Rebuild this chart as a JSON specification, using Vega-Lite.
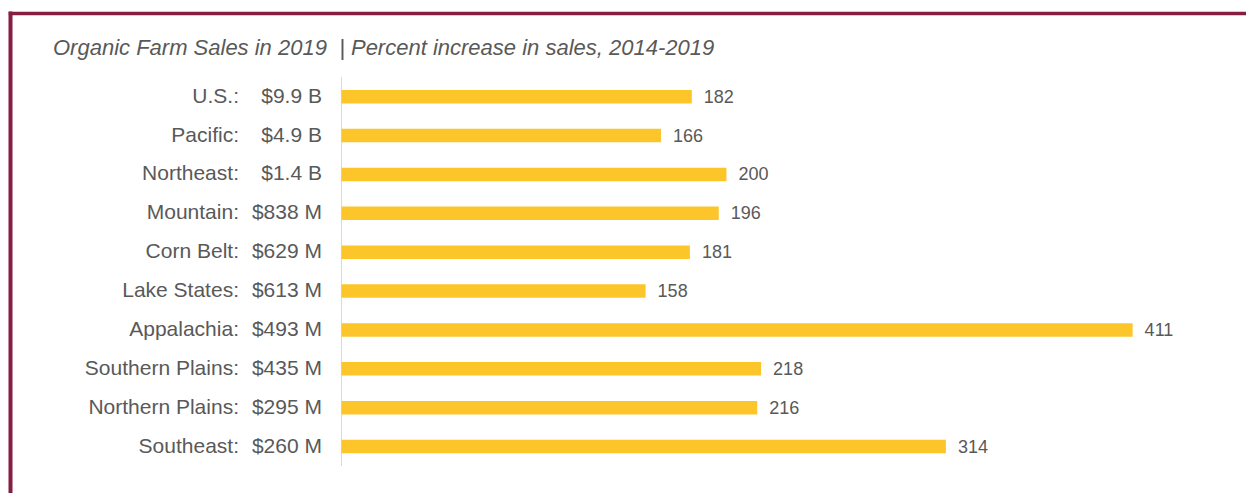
{
  "$schema": "https://vega.github.io/schema/vega-lite/v6.json",
  "description": "Organic farm sales in 2019 by region, with percent increase in sales 2014-2019.",
  "autosize": {"type": "none"},
  "width": 1236,
  "height": 480,
  "padding": {"left": 10, "top": 13, "right": 0, "bottom": 0},
  "background": "white",
  "config": {
    "font": "Liberation Sans",
    "view": {"stroke": null},
    "axisX": {
      "title": null,
      "labels": false,
      "ticks": false,
      "grid": false,
      "domainColor": "#861d42",
      "domainWidth": 3.5,
      "domainCap": "square"
    }
  },
  "title": {
    "text": "Organic Farm Sales in 2019\u00a0\u00a0| Percent increase in sales, 2014-2019",
    "anchor": "start",
    "frame": "group",
    "fontStyle": "italic",
    "fontWeight": "normal",
    "fontSize": 22,
    "color": "#595959",
    "baseline": "alphabetic",
    "dx": 43,
    "offset": -64
  },
  "data": {
    "values": [
      {"region": "U.S.:", "sales": "$9.9 B", "pct": 182},
      {"region": "Pacific:", "sales": "$4.9 B", "pct": 166},
      {"region": "Northeast:", "sales": "$1.4 B", "pct": 200},
      {"region": "Mountain:", "sales": "$838 M", "pct": 196},
      {"region": "Corn Belt:", "sales": "$629 M", "pct": 181},
      {"region": "Lake States:", "sales": "$613 M", "pct": 158},
      {"region": "Appalachia:", "sales": "$493 M", "pct": 411},
      {"region": "Southern Plains:", "sales": "$435 M", "pct": 218},
      {"region": "Northern Plains:", "sales": "$295 M", "pct": 216},
      {"region": "Southeast:", "sales": "$260 M", "pct": 314}
    ]
  },
  "encoding": {
    "y": {
      "field": "region",
      "type": "nominal",
      "sort": null,
      "scale": {
        "domain": ["U.S.:", "Pacific:", "Northeast:", "Mountain:", "Corn Belt:", "Lake States:", "Appalachia:", "Southern Plains:", "Northern Plains:", "Southeast:", ""],
        "paddingInner": 0.652,
        "paddingOuter": 1,
        "align": 0.99
      },
      "axis": {
        "orient": "left",
        "title": null,
        "labels": false,
        "ticks": false,
        "grid": false,
        "domainColor": "#861d42",
        "domainWidth": 4,
        "domainCap": "square"
      }
    }
  },
  "layer": [
    {
      "mark": {"type": "rule", "color": "#d9d9d9", "strokeWidth": 1},
      "encoding": {
        "x": {"datum": 0, "type": "quantitative", "axis": {"orient": "top", "title": null}},
        "y": {"field": "region", "type": "nominal", "sort": null, "bandPosition": -0.937},
        "y2": {"field": "region", "bandPosition": 1.937}
      }
    },
    {
      "mark": {"type": "bar", "color": "#fcc62b"},
      "encoding": {
        "x": {
          "field": "pct",
          "type": "quantitative",
          "scale": {"domain": [-172.2, 469.9], "nice": false, "zero": false},
          "axis": {"orient": "top", "title": null}
        },
        "x2": {"datum": 0}
      }
    },
    {
      "mark": {"type": "text", "align": "left", "baseline": "middle", "dx": 12, "dy": 1, "fontSize": 18, "color": "#595959"},
      "encoding": {
        "x": {"field": "pct", "type": "quantitative", "axis": {"orient": "top", "title": null}},
        "text": {"field": "pct", "type": "quantitative"}
      }
    },
    {
      "mark": {"type": "text", "align": "right", "baseline": "middle", "dx": -102.5, "fontSize": 21, "color": "#595959"},
      "encoding": {
        "x": {"datum": 0, "type": "quantitative", "axis": {"orient": "top", "title": null}},
        "text": {"field": "region", "type": "nominal"}
      }
    },
    {
      "mark": {"type": "text", "align": "right", "baseline": "middle", "dx": -19.5, "fontSize": 21, "color": "#595959"},
      "encoding": {
        "x": {"datum": 0, "type": "quantitative", "axis": {"orient": "top", "title": null}},
        "text": {"field": "sales", "type": "nominal"}
      }
    }
  ]
}
